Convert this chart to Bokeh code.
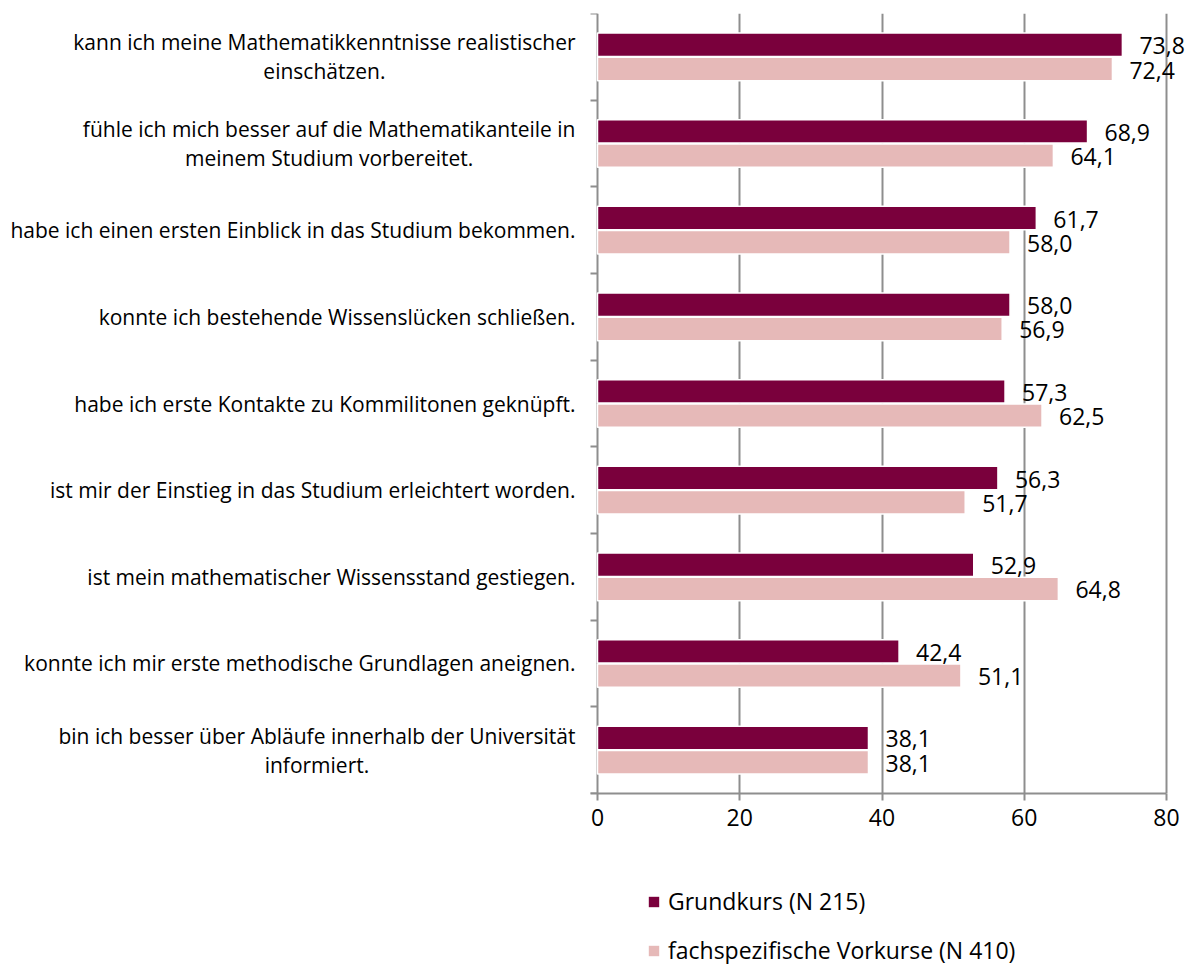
from bokeh.plotting import figure
from bokeh.layouts import column
from bokeh.models import (ColumnDataSource, FixedTicker, Range1d, Legend,
                          LegendItem)
from bokeh.core.properties import value
from bokeh.embed import file_html
from bokeh.resources import INLINE

categories = [
    "kann ich meine Mathematikkenntnisse realistischer\neinschätzen.",
    "fühle ich mich besser auf die Mathematikanteile in\nmeinem Studium vorbereitet.",
    "habe ich einen ersten Einblick in das Studium bekommen.",
    "konnte ich bestehende Wissenslücken schließen.",
    "habe ich erste Kontakte zu Kommilitonen geknüpft.",
    "ist mir der Einstieg in das Studium erleichtert worden.",
    "ist mein mathematischer Wissensstand gestiegen.",
    "konnte ich mir erste methodische Grundlagen aneignen.",
    "bin ich besser über Abläufe innerhalb der Universität\ninformiert.",
]
grundkurs = [73.8, 68.9, 61.7, 58.0, 57.3, 56.3, 52.9, 42.4, 38.1]
vorkurse = [72.4, 64.1, 58.0, 56.9, 62.5, 51.7, 64.8, 51.1, 38.1]
series_names = ["Grundkurs (N 215)", "fachspezifische Vorkurse (N 410)"]
x_ticks = [0, 20, 40, 60, 80]

DARK = "#7A003C"
LIGHT = "#E6B9B8"
GRID = "#8E8E8E"
FONT = "Open Sans"

# layout geometry (pixels)
FRAME_W = 1190
PLOT_LEFT_PX = 597        # where x=0 sits inside the frame
PLOT_W_PX = 569           # width of 0..80
ppu = PLOT_W_PX / 80.0
x_start = -PLOT_LEFT_PX / ppu
x_end = x_start + FRAME_W / ppu
TICK_PX = 7

n = len(categories)
centers = [n - i - 0.5 for i in range(n)]
dodge = 0.14
bar_h = 0.27
eps = 0.0005

fmt = lambda v: f"{v:.1f}".replace(".", ",")
src_g = ColumnDataSource(dict(y=[c + dodge for c in centers], x=grundkurs,
                              lbl=[fmt(v) for v in grundkurs]))
src_v = ColumnDataSource(dict(y=[c - dodge for c in centers], x=vorkurse,
                              lbl=[fmt(v) for v in vorkurse]))
src_c = ColumnDataSource(dict(y=centers, x=[0] * n, txt=categories))

p = figure(frame_width=FRAME_W, frame_height=780, output_backend="svg",
           toolbar_location=None, y_axis_location=None,
           x_range=Range1d(x_start, x_end), y_range=Range1d(-eps, n + eps),
           min_border_left=0, min_border_right=0, min_border_top=13,
           min_border_bottom=60, outline_line_color=None)

# vertical grid lines (0 line doubles as the category axis)
p.xgrid.ticker = FixedTicker(ticks=x_ticks)
p.xgrid.grid_line_color = GRID
p.xgrid.grid_line_width = 2
p.xgrid.bounds = (0, 80)
# short tick marks at the category boundaries, left of the axis
p.ygrid.ticker = FixedTicker(ticks=list(range(n + 1)))
p.ygrid.grid_line_color = GRID
p.ygrid.grid_line_width = 2
p.ygrid.cross_bounds = (-TICK_PX / ppu, 0)

p.hbar(y="y", right="x", left=0, height=bar_h, source=src_g,
       fill_color=DARK, line_color="white", line_width=1.5)
p.hbar(y="y", right="x", left=0, height=bar_h, source=src_v,
       fill_color=LIGHT, line_color="white", line_width=1.5)

for s in (src_g, src_v):
    p.text(x="x", y="y", text="lbl", source=s, x_offset=17, y_offset=1,
           text_baseline="middle", text_align="left",
           text_font=value(FONT), text_font_size="23px", text_color="black")

# category labels: block right-aligned next to the axis, lines centred
p.text(x="x", y="y", text="txt", source=src_c, x_offset=-22,
       anchor="center_right", text_align="center", text_baseline="middle",
       text_font=value(FONT), text_font_size="21px", text_color="black",
       text_line_height=1.03)

# x axis
xa = p.xaxis[0]
xa.ticker = FixedTicker(ticks=x_ticks)
xa.bounds = (-TICK_PX / ppu, 80)
xa.axis_line_color = GRID
xa.axis_line_width = 2
xa.major_tick_line_color = GRID
xa.major_tick_line_width = 2
xa.major_tick_out = 7
xa.major_tick_in = 0
xa.minor_tick_line_color = None
xa.major_label_text_font = FONT
xa.major_label_text_font_size = "23px"
xa.major_label_text_color = "black"
xa.major_label_standoff = 8

# legend strip below the chart (series drawn out of view, only swatches show)
q = figure(frame_width=FRAME_W, frame_height=111, output_backend="svg",
           toolbar_location=None, x_axis_location=None, y_axis_location=None,
           x_range=Range1d(0, 1), y_range=Range1d(100, 101),
           min_border_left=0, min_border_right=0, min_border_top=0,
           min_border_bottom=0, outline_line_color=None)
q.xgrid.visible = False
q.ygrid.visible = False
lg1 = q.hbar(y="y", right="x", left=0, height=bar_h, source=src_g,
             fill_color=DARK, line_color=None)
lg2 = q.hbar(y="y", right="x", left=0, height=bar_h, source=src_v,
             fill_color=LIGHT, line_color=None)

legend = Legend(items=[LegendItem(label=series_names[0], renderers=[lg1]),
                       LegendItem(label=series_names[1], renderers=[lg2])],
                location=(647, -2), orientation="vertical",
                label_text_font=FONT, label_text_font_size="23px",
                label_text_color="black",
                glyph_width=13, glyph_height=13, spacing=17,
                border_line_color=None, background_fill_alpha=0,
                label_standoff=8, margin=0, padding=0)
q.add_layout(legend, "center")

layout = column(p, q, spacing=0)
open("out.html", "w").write(file_html(layout, INLINE))
